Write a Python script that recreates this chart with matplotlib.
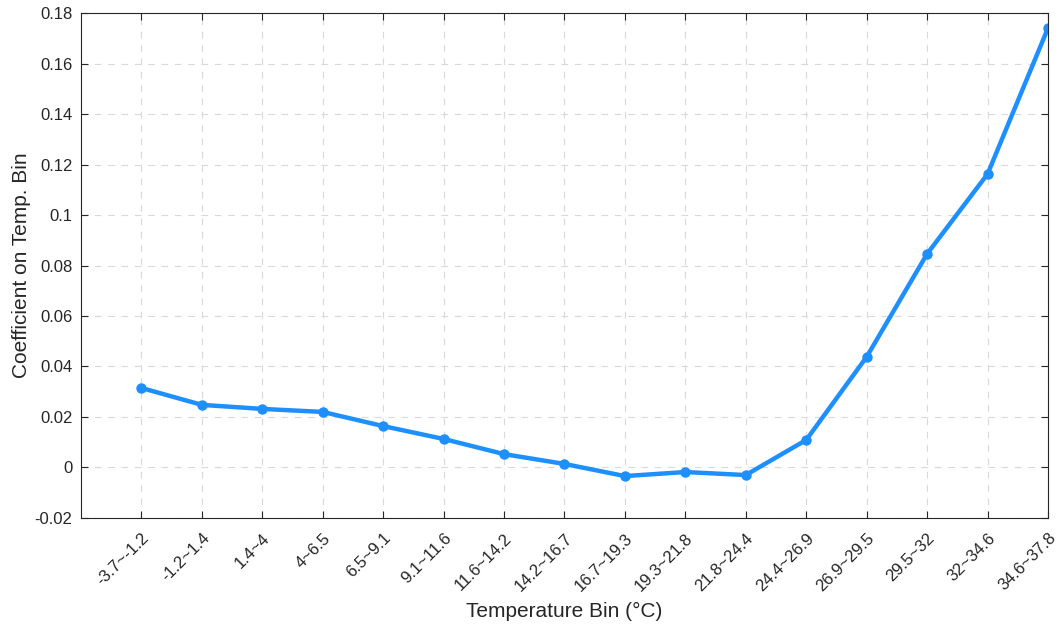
import matplotlib
matplotlib.use("Agg")
import matplotlib.pyplot as plt
import numpy as np

# Temperature bins and their regression coefficients
bin_labels = [
    "-3.7~-1.2", "-1.2~1.4", "1.4~4", "4~6.5", "6.5~9.1", "9.1~11.6",
    "11.6~14.2", "14.2~16.7", "16.7~19.3", "19.3~21.8", "21.8~24.4",
    "24.4~26.9", "26.9~29.5", "29.5~32", "32~34.6", "34.6~37.8",
]
coefficients = [
    0.0315, 0.0248, 0.0232, 0.0220, 0.0164, 0.0113, 0.0053, 0.0014,
    -0.0034, -0.0018, -0.0030, 0.0109, 0.0438, 0.0846, 0.1162, 0.1740,
]
y_ticks = [-0.02, 0, 0.02, 0.04, 0.06, 0.08, 0.1, 0.12, 0.14, 0.16, 0.18]
y_tick_labels = ["-0.02", "0", "0.02", "0.04", "0.06", "0.08", "0.1",
                 "0.12", "0.14", "0.16", "0.18"]

plt.rcParams["font.family"] = ["Liberation Sans", "DejaVu Sans"]

fig = plt.figure(figsize=(10.61, 6.29), dpi=100)
fig.patch.set_facecolor("white")
ax = fig.add_axes([0.0763, 0.1765, 0.9114, 0.8028])

x = np.arange(1, len(bin_labels) + 1)
ax.plot(x, coefficients, color="#1E8FFF", linewidth=3.2, marker="o",
        markersize=6.5, solid_joinstyle="round")

ax.set_xlim(0, len(bin_labels))
ax.set_ylim(-0.02, 0.18)
ax.set_xticks(x)
ax.set_xticklabels(bin_labels, rotation=45, ha="right", va="top",
                   rotation_mode="anchor", fontsize=12, color="#262626")
ax.set_yticks(y_ticks)
ax.set_yticklabels(y_tick_labels, fontsize=12, color="#262626")

ax.tick_params(direction="in", top=True, right=True, length=5, width=0.8,
               color="#262626", pad=6)
ax.tick_params(axis="x", pad=9)

ax.grid(True, linestyle=(0, (6, 6)), color="#d9d9d9", linewidth=0.8)
ax.set_axisbelow(True)

for spine in ax.spines.values():
    spine.set_color("#262626")
    spine.set_linewidth(0.8)

ax.set_xlabel("Temperature Bin (°C)", fontsize=15, color="#262626", labelpad=6)
ax.set_ylabel("Coefficient on Temp. Bin", fontsize=15, color="#262626", labelpad=3)

fig.savefig("out.png", dpi=100, facecolor="white")
plt.close(fig)
